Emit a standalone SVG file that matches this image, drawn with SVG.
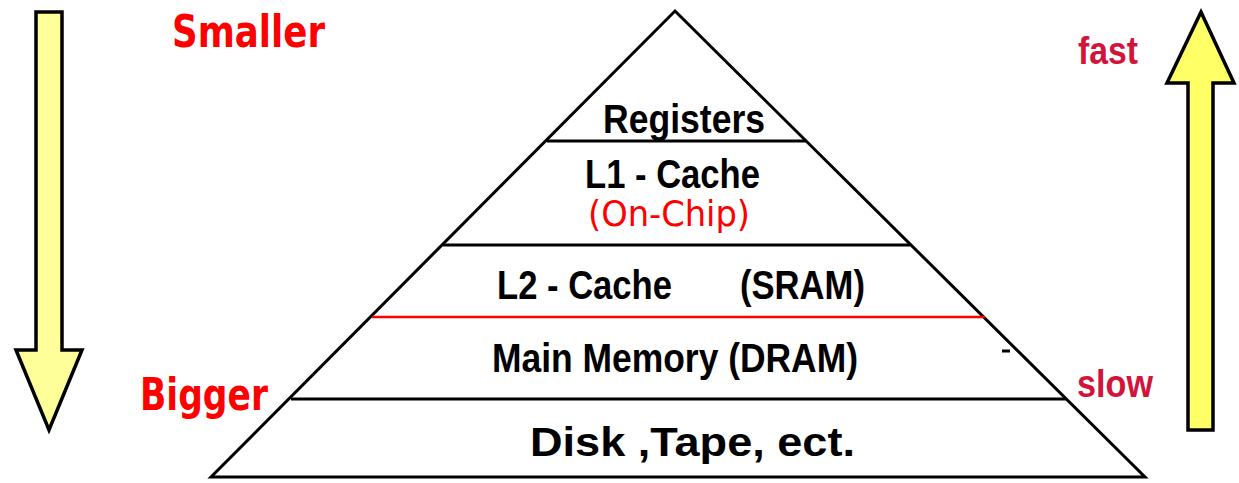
<svg xmlns="http://www.w3.org/2000/svg" width="1239" height="483" viewBox="0 0 1239 483">
  <style>
    .edge { fill: none; stroke: #000; stroke-width: 3; stroke-linejoin: miter; }
    .tier { stroke: #000; stroke-width: 3; }
    .split { stroke: #f00; stroke-width: 2.5; }
    .arrow { stroke: #000; stroke-width: 3.5; stroke-linejoin: miter; }
    .lbl { font-family: "Liberation Sans", Arial, sans-serif; font-size: 40px; font-weight: bold; fill: #000; }
    .note { font-family: "DejaVu Sans", "Liberation Sans", sans-serif; font-size: 36px; fill: #f00; }
    .hand { font-family: "DejaVu Sans", "Liberation Sans", sans-serif; font-weight: bold; fill: #f00; }
    .speed { font-family: "Liberation Sans", Arial, sans-serif; font-weight: bold; fill: #d2143c; font-size: 38px; }
  </style>
  <rect width="1239" height="483" fill="#fff"/>

  <!-- size axis: downward arrow -->
  <g id="size-arrow">
    <polygon class="arrow" fill="#ffff99" points="36,12 62,12 62,350 82,350 49,430 16,350 36,350"/>
    <text class="hand" x="172" y="47" font-size="44" textLength="153" lengthAdjust="spacingAndGlyphs">Smaller</text>
    <text class="hand" x="140" y="410" font-size="44" textLength="128" lengthAdjust="spacingAndGlyphs">Bigger</text>
  </g>

  <!-- speed axis: upward arrow -->
  <g id="speed-arrow">
    <polygon class="arrow" fill="#ffff66" points="1201,12 1234,83 1213,83 1213,430 1188,430 1188,83 1167,83"/>
    <text class="speed" x="1078" y="64" textLength="60" lengthAdjust="spacingAndGlyphs">fast</text>
    <text class="speed" x="1077" y="397" textLength="76" lengthAdjust="spacingAndGlyphs">slow</text>
  </g>

  <!-- pyramid outline and tier boundaries -->
  <g id="pyramid">
    <polygon class="edge" points="675,11 1145,477 211,477"/>
    <line class="tier" x1="547" y1="141" x2="806" y2="141"/>
    <line class="tier" x1="443" y1="245" x2="910" y2="245"/>
    <line class="split" x1="372" y1="317" x2="985" y2="317"/>
    <line class="tier" x1="291" y1="399" x2="1066" y2="399"/>
    <line class="tier" x1="1002" y1="351" x2="1010" y2="351" stroke-width="1.5"/>
  </g>

  <g id="registers">
    <text class="lbl" x="603" y="133" font-size="41" textLength="162" lengthAdjust="spacingAndGlyphs">Registers</text>
  </g>

  <g id="l1-cache">
    <text class="lbl" x="585" y="188" textLength="175" lengthAdjust="spacingAndGlyphs">L1 - Cache</text>
    <text class="note" x="588" y="226" textLength="162" lengthAdjust="spacingAndGlyphs">(On-Chip)</text>
  </g>

  <g id="l2-cache">
    <text class="lbl" x="497" y="299" textLength="175" lengthAdjust="spacingAndGlyphs">L2 - Cache</text>
    <text class="lbl" x="740" y="299" textLength="125" lengthAdjust="spacingAndGlyphs">(SRAM)</text>
  </g>

  <g id="main-memory">
    <text class="lbl" x="492" y="372" textLength="366" lengthAdjust="spacingAndGlyphs">Main Memory (DRAM)</text>
  </g>

  <g id="disk">
    <text class="lbl" x="530" y="456" textLength="325" lengthAdjust="spacingAndGlyphs">Disk ,Tape, ect.</text>
  </g>
</svg>
